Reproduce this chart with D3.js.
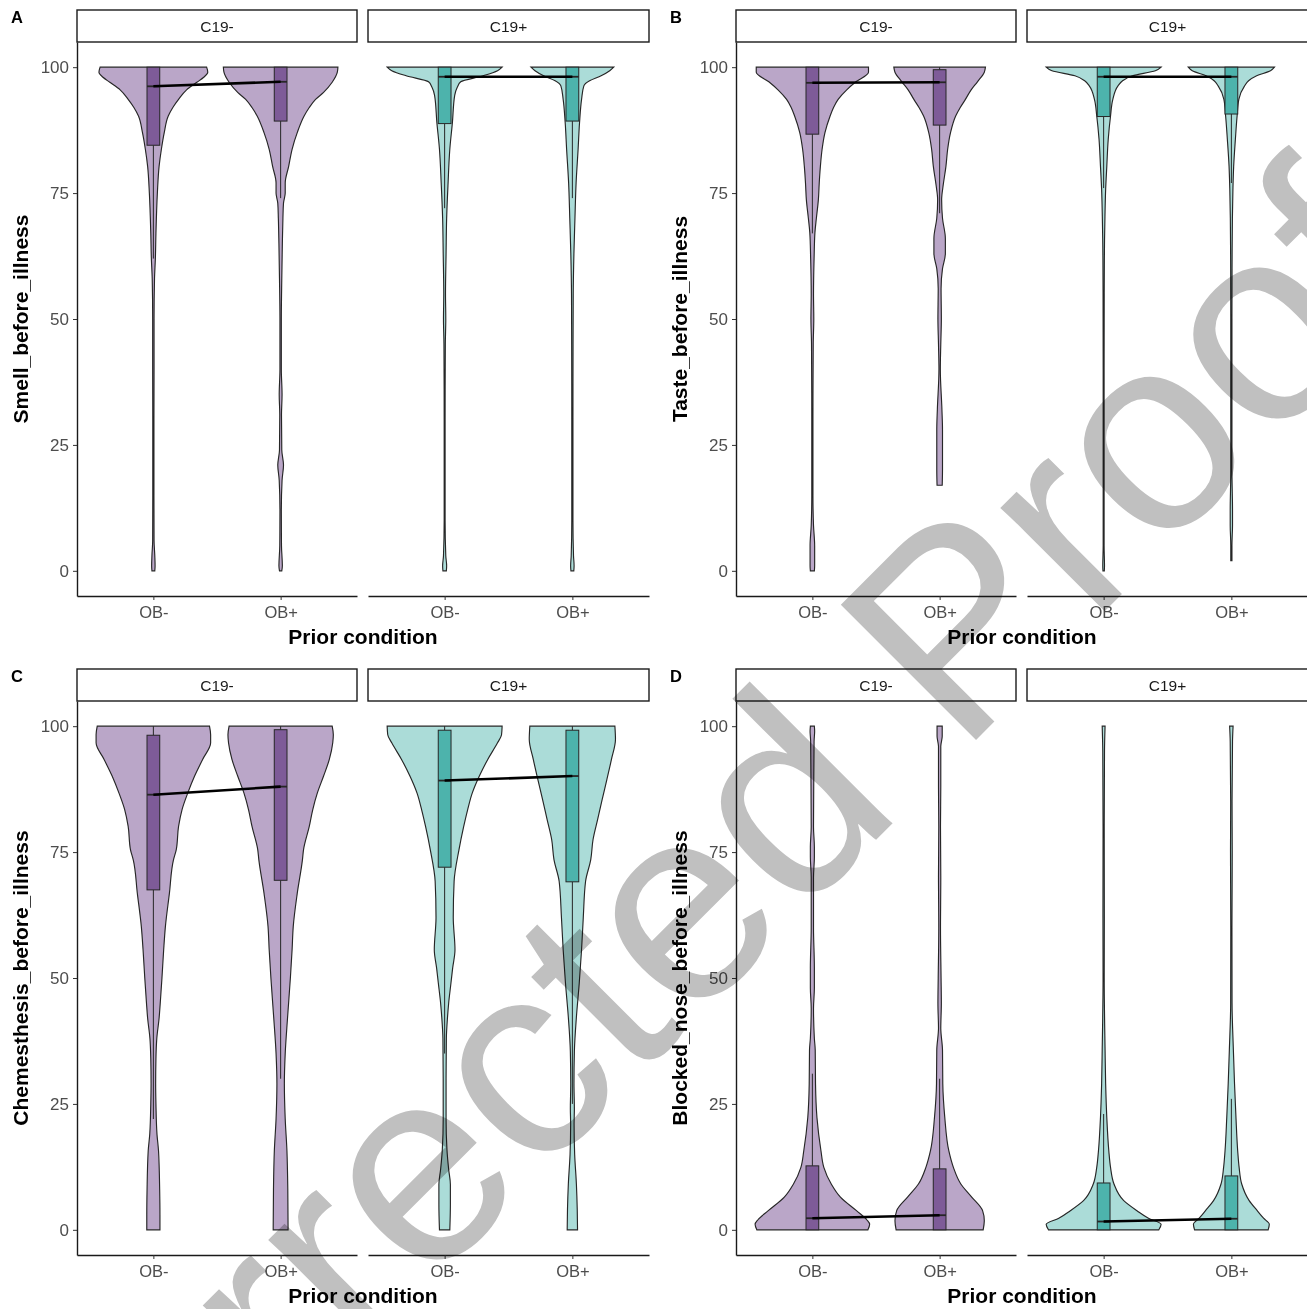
<!DOCTYPE html>
<html>
<head>
<meta charset="utf-8">
<script src="https://cdn.jsdelivr.net/npm/d3@7"></script>
<style>
  body { margin: 0; background: #fff; }
  text { font-family: "Liberation Sans", Arial, sans-serif; }
</style>
</head>
<body>
<div class="visContainer"></div>
<script>
const obGroups = ['OB-', 'OB+'];
const covidGroups = ['C19-', 'C19+'];
const panelLetters = ['A', 'B', 'C', 'D'];
const yTitles = ['Smell_before_illness', 'Taste_before_illness', 'Chemesthesis_before_illness', 'Blocked_nose_before_illness'];
const yTicks = [0, 25, 50, 75, 100];
const violinFill = ['#baa6c8', '#abdcd8'];
const boxFill = ['#7e5b98', '#4db3ac'];

// box stats, order C19-/OB-, C19-/OB+, C19+/OB-, C19+/OB+
// [lower whisker, q1, median, q3, upper whisker]
const smellBoxes = [[62, 84.5, 96.2, 100, 100], [74, 89.3, 97.1, 100, 100], [72, 88.8, 98.1, 100, 100], [74, 89.3, 98.1, 100, 100]];
const tasteBoxes = [[67, 86.7, 96.9, 100, 100], [71, 88.5, 97.0, 99.5, 100], [76, 90.2, 98.1, 100, 100], [77, 90.7, 98.1, 100, 100]];
const chemBoxes = [[22, 67.5, 86.4, 98.2, 100], [30, 69.4, 88.0, 99.3, 100], [35, 72, 89.2, 99.2, 100], [25, 69.1, 90.1, 99.2, 100]];
const noseBoxes = [[0, 0, 2.3, 12.7, 31], [0, 0, 2.9, 12.1, 30], [0, 0, 1.65, 9.3, 23], [0, 0, 2.2, 10.7, 26]];

// violin outlines as [value, relative half width], same order
const smellViolins = [
  [[100,0.93],[99,0.95],[98,0.88],[97,0.76],[95.5,0.58],[93.6,0.44],[92,0.34],[90.3,0.26],[87,0.19],[83.7,0.14],[80.3,0.1],[75,0.07],[67,0.045],[62,0.035],[58,0.02],[50,0.012],[40,0.012],[30,0.01],[15,0.01],[6,0.012],[3,0.025],[1,0.03],[0,0.025]],
  [[100,1.0],[99,0.99],[97,0.9],[95,0.75],[93.6,0.61],[92,0.5],[90.3,0.41],[87,0.29],[83.7,0.2],[80.3,0.14],[77,0.08],[75,0.08],[73,0.05],[70,0.04],[65,0.03],[58,0.02],[50,0.012],[40,0.012],[35,0.025],[31,0.015],[24,0.02],[21,0.05],[18,0.025],[12,0.012],[5,0.015],[1,0.03],[0,0.02]],
  [[100,1.0],[99.3,0.92],[98.3,0.67],[97.1,0.28],[96,0.22],[94.4,0.175],[89,0.135],[83.7,0.09],[77,0.06],[70,0.035],[63,0.025],[55,0.015],[50,0.02],[45,0.012],[30,0.008],[10,0.008],[3,0.02],[1,0.035],[0,0.03]],
  [[100,0.72],[99.3,0.65],[98.3,0.5],[97.3,0.3],[96.3,0.2],[93.6,0.16],[89,0.125],[83.7,0.1],[77,0.065],[70,0.045],[63,0.027],[55,0.015],[45,0.012],[30,0.01],[10,0.01],[3,0.02],[1,0.03],[0,0.025]]
];
const tasteViolins = [
  [[100,0.98],[99,0.98],[97.1,0.76],[95.5,0.6],[93.6,0.45],[92,0.37],[90.3,0.31],[87,0.22],[83.7,0.17],[80.3,0.14],[77,0.12],[73.7,0.105],[70,0.07],[67.2,0.045],[62,0.03],[55,0.02],[50,0.025],[45,0.015],[30,0.01],[15,0.01],[9,0.02],[5,0.04],[1,0.04],[0,0.035]],
  [[100,0.8],[99,0.78],[97.1,0.66],[95.5,0.55],[93.6,0.45],[92,0.36],[90.3,0.28],[87,0.19],[83.7,0.14],[80.3,0.11],[76.4,0.06],[73.7,0.035],[70,0.05],[66,0.1],[63,0.1],[60,0.05],[56,0.025],[50,0.03],[45,0.02],[40,0.012],[32,0.04],[28,0.05],[24,0.05],[20,0.05],[17,0.045]],
  [[100,1.0],[99.3,0.9],[98.3,0.5],[97.3,0.33],[96.3,0.25],[93.6,0.16],[90.3,0.12],[85.7,0.08],[80.3,0.055],[75.7,0.035],[70.4,0.023],[65,0.015],[55,0.01],[40,0.008],[20,0.008],[5,0.008],[1,0.015],[0,0.012]],
  [[100,0.75],[99.3,0.68],[98.3,0.44],[97.3,0.3],[96.3,0.23],[93.6,0.13],[90.3,0.1],[85.7,0.07],[80.3,0.04],[75.7,0.027],[70,0.018],[60,0.012],[50,0.01],[35,0.01],[20,0.01],[12,0.02],[9,0.02],[5,0.01],[2,0.01]]
];
const chemViolins = [
  [[100,0.98],[98.3,1.0],[96.7,1.0],[93.4,0.86],[90.1,0.72],[86.7,0.6],[83.4,0.5],[80.1,0.44],[75.5,0.4],[73.4,0.35],[66.8,0.28],[60.2,0.21],[55.6,0.18],[50,0.15],[45,0.12],[42,0.1],[38,0.06],[34,0.045],[29,0.04],[25,0.045],[19,0.063],[15.7,0.09],[8,0.11],[3,0.115],[0,0.115]],
  [[100,0.9],[98.3,0.92],[96.7,0.91],[93.4,0.85],[90.1,0.75],[86.7,0.64],[83.4,0.56],[80.1,0.5],[75.5,0.4],[73.4,0.38],[66.8,0.29],[60.2,0.22],[55.6,0.2],[50,0.17],[42,0.12],[35,0.08],[29,0.065],[22,0.08],[15.7,0.11],[8,0.125],[0,0.13]],
  [[100,1.0],[98.3,0.99],[96.7,0.92],[93.4,0.75],[90,0.6],[86.7,0.48],[83.4,0.4],[80,0.33],[75.5,0.25],[69.2,0.165],[62,0.15],[55.6,0.18],[52,0.14],[49,0.11],[45,0.07],[42.2,0.05],[38,0.03],[30,0.025],[22,0.025],[16,0.04],[12,0.07],[9,0.1],[5,0.1],[0,0.09]],
  [[100,0.74],[97.4,0.75],[93.4,0.68],[89.4,0.6],[85.5,0.52],[81.5,0.44],[77.5,0.36],[73.5,0.32],[69.2,0.23],[62,0.19],[55.6,0.16],[49,0.12],[42.2,0.07],[35.4,0.035],[29,0.028],[24,0.035],[21,0.03],[15,0.04],[9.1,0.07],[4,0.085],[0,0.09]]
];
const noseViolins = [
  [[100,0.035],[99,0.04],[97,0.03],[90,0.025],[80,0.02],[76,0.035],[74,0.035],[70,0.02],[60,0.02],[52,0.035],[48,0.035],[44,0.02],[38,0.035],[35.7,0.05],[29,0.055],[22.3,0.08],[15.7,0.15],[12.4,0.2],[9.1,0.33],[6.5,0.49],[3.8,0.77],[2,0.95],[1.1,1.0],[0,0.97]],
  [[100,0.045],[98,0.045],[96,0.02],[88,0.02],[80,0.015],[70,0.02],[60,0.015],[50,0.025],[45,0.03],[40,0.02],[35.7,0.05],[29,0.055],[22.3,0.09],[15.7,0.16],[12.4,0.24],[9.1,0.37],[6.5,0.56],[3.8,0.75],[1.8,0.78],[0,0.76]],
  [[100,0.025],[95,0.015],[80,0.01],[62,0.012],[50,0.01],[35.7,0.025],[29,0.035],[22.3,0.055],[15.7,0.09],[12.4,0.12],[9.1,0.18],[5.8,0.35],[3.8,0.58],[2.3,0.78],[1.1,1.0],[0,0.96]],
  [[100,0.03],[97,0.02],[85,0.012],[75,0.015],[60,0.01],[45,0.012],[35.7,0.035],[29,0.055],[22.3,0.08],[15.7,0.11],[12.4,0.135],[9.1,0.18],[5.8,0.31],[3.8,0.45],[2.3,0.56],[1.1,0.66],[0,0.64]]
];

const width = 1307;
const height = 1309;
const ink = '#262626';

const svg = d3.select('.visContainer')
              .append('svg')
              .attr('width', width)
              .attr('height', height);

svg.append('rect').attr('width', width).attr('height', height).attr('fill', '#fff');

const panels = [
  {boxes: smellBoxes, violins: smellViolins, ox: 0, oy: 0},
  {boxes: tasteBoxes, violins: tasteViolins, ox: 659, oy: 0},
  {boxes: chemBoxes, violins: chemViolins, ox: 0, oy: 659},
  {boxes: noseBoxes, violins: noseViolins, ox: 659, oy: 659}
];

panels.forEach((p, i) => drawPanel(p, i));

function drawPanel(p, i) {
  const g = svg.append('g');
  const top = p.oy + 42;
  const bottom = p.oy + 596;
  const yScale = d3.scaleLinear().domain([-5, 105]).range([bottom, top]);
  const facets = [[p.ox + 77, p.ox + 357], [p.ox + 368, p.ox + 649]];

  facets.forEach((f, fi) => {
    const xScale = d3.scalePoint().domain(obGroups).range(f).padding(0.6);
    const step = xScale.step();
    const vHalf = 0.45 * step;
    const bHalf = 0.05 * step;

    // strip
    g.append('rect')
     .attr('x', f[0]).attr('y', p.oy + 10)
     .attr('width', f[1] - f[0]).attr('height', 32)
     .attr('fill', '#fff').attr('stroke', '#1a1a1a').attr('stroke-width', 1.4);
    g.append('text')
     .attr('x', (f[0] + f[1]) / 2).attr('y', p.oy + 32)
     .attr('text-anchor', 'middle').attr('font-size', 15.5).attr('fill', '#1a1a1a')
     .text(covidGroups[fi]);

    obGroups.forEach((ob, oi) => {
      const k = fi * 2 + oi;
      const cx = xScale(ob);
      const area = d3.area()
                     .curve(d3.curveMonotoneY)
                     .y(d => yScale(d[0]))
                     .x0(d => cx - d[1] * vHalf)
                     .x1(d => cx + d[1] * vHalf);
      g.append('path')
       .attr('d', area(p.violins[k]))
       .attr('fill', violinFill[fi])
       .attr('stroke', ink).attr('stroke-width', 1.15);

      const b = p.boxes[k];
      g.append('line')
       .attr('x1', cx).attr('x2', cx)
       .attr('y1', yScale(b[0])).attr('y2', yScale(b[1]))
       .attr('stroke', ink).attr('stroke-width', 1);
      g.append('line')
       .attr('x1', cx).attr('x2', cx)
       .attr('y1', yScale(b[3])).attr('y2', yScale(b[4]))
       .attr('stroke', ink).attr('stroke-width', 1);
      g.append('rect')
       .attr('x', cx - bHalf).attr('width', 2 * bHalf)
       .attr('y', yScale(b[3])).attr('height', yScale(b[1]) - yScale(b[3]))
       .attr('fill', boxFill[fi]).attr('stroke', ink).attr('stroke-width', 1);
      g.append('line')
       .attr('x1', cx - bHalf).attr('x2', cx + bHalf)
       .attr('y1', yScale(b[2])).attr('y2', yScale(b[2]))
       .attr('stroke', ink).attr('stroke-width', 1.8);
    });

    // median line between OB groups
    const meds = obGroups.map((ob, oi) => [xScale(ob), yScale(p.boxes[fi * 2 + oi][2])]);
    g.append('path')
     .attr('d', d3.line()(meds))
     .attr('stroke', '#000').attr('stroke-width', 2.6).attr('fill', 'none');

    const xAxis = d3.axisBottom(xScale).tickSizeInner(4).tickSizeOuter(0).tickPadding(6);
    const ax = g.append('g').attr('transform', `translate(0,${bottom})`).call(xAxis);
    ax.select('.domain').attr('stroke', '#1a1a1a').attr('stroke-width', 1.4);
    ax.selectAll('.tick line').attr('stroke', '#333');
    ax.selectAll('.tick text').attr('font-size', 16.5).attr('fill', '#4d4d4d')
      .attr('font-family', '"Liberation Sans", Arial, sans-serif');
  });

  const yAxis = d3.axisLeft(yScale).tickValues(yTicks).tickSizeInner(4).tickSizeOuter(0).tickPadding(4);
  const ay = g.append('g').attr('transform', `translate(${p.ox + 77},0)`).call(yAxis);
  ay.select('.domain').attr('stroke', '#1a1a1a').attr('stroke-width', 1.4);
  ay.selectAll('.tick line').attr('stroke', '#333');
  ay.selectAll('.tick text').attr('font-size', 17).attr('fill', '#4d4d4d')
    .attr('font-family', '"Liberation Sans", Arial, sans-serif');

  g.append('text')
   .attr('x', (facets[0][0] + facets[1][1]) / 2).attr('y', p.oy + 644)
   .attr('text-anchor', 'middle').attr('font-size', 21).attr('font-weight', 'bold')
   .text('Prior condition');

  g.append('text')
   .attr('transform', `translate(${p.ox + 28},${(top + bottom) / 2}) rotate(-90)`)
   .attr('text-anchor', 'middle').attr('font-size', 21).attr('font-weight', 'bold')
   .text(yTitles[i]);

  g.append('text')
   .attr('x', p.ox + 11).attr('y', p.oy + 23)
   .attr('font-size', 16.5).attr('font-weight', 'bold')
   .text(panelLetters[i]);
}

// watermark laid over the figure
svg.append('text')
   .attr('transform', 'translate(736,980) rotate(-45)')
   .attr('text-anchor', 'middle')
   .attr('font-size', 278)
   .attr('fill', '#c0c0c0')
   .style('mix-blend-mode', 'multiply')
   .text('Corrected Proof');
</script>
</body>
</html>
